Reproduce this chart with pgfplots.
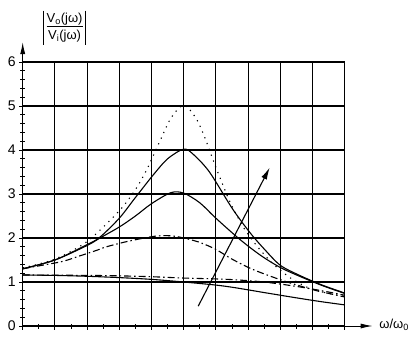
\documentclass[border=0pt]{standalone}
\usepackage{pgfplots}
\pgfplotsset{compat=1.18}
\usepackage{fontspec}
\setmainfont{Liberation Sans}
\usetikzlibrary{arrows.meta}
\begin{document}
\begin{tikzpicture}[x=1pt,y=1pt]
\begin{axis}[
 scale only axis, width=322pt, height=264pt,
 xmin=0,xmax=10,ymin=0,ymax=6,
 axis lines=left,
 x axis line style={-{Latex[length=12pt,width=5pt]}, shorten >=-28pt, line width=1pt},
 y axis line style={-{Latex[length=12pt,width=5pt]}, shorten >=-20pt, line width=1pt},
 xtick={0,...,10}, ytick={0,...,6},
 xticklabels={},
 minor x tick num=1, minor y tick num=4,
 grid=major, major grid style={black, line width=1.1pt},
 tick style={black, line width=0.8pt},
 tick align=center,
 major tick length=7pt, minor tick length=5pt,
 tick label style={font=\fontsize{14}{16}\selectfont},
 /pgf/number format/assume math mode=true,
 clip=false,
]
% peak 5 (dotted)
\addplot[black, line width=1.1pt, dash pattern=on 1.2pt off 5pt, smooth] coordinates {
(0,1.32) (1,1.52) (2,1.92) (3,2.62) (3.5,3.1) (3.85,3.55) (4.26,4.2) (4.6,4.72) (5.0,5.02)
(5.4,4.7) (5.7,4.2) (5.9,3.8) (6.1,3.42) (6.45,2.8) (6.85,2.25) (7.25,1.84) (7.75,1.43)
(8.3,1.1) (8.9,0.86) (9.5,0.74) (10,0.68)};
% peak 4 (solid)
\addplot[black, line width=1.1pt, smooth] coordinates {
(0,1.3) (1,1.5) (2,1.85) (2.4,2.02) (3,2.45) (3.5,2.92) (4.05,3.43) (4.5,3.8) (5.0,4.02)
(5.3,3.9) (5.8,3.5) (6.5,2.68) (7.05,2.13) (7.5,1.75) (8.0,1.38) (8.6,1.15) (9.3,0.93) (10,0.75)};
% peak 3 (solid)
\addplot[black, line width=1.1pt, smooth] coordinates {
(0,1.3) (1,1.5) (2,1.83) (2.4,2.0) (3,2.25) (3.5,2.5) (4.0,2.78) (4.6,3.03) (5.0,3.02)
(5.5,2.8) (6.0,2.45) (6.74,1.97) (7.4,1.6) (8.0,1.33) (8.6,1.13) (9.3,0.92) (10,0.74)};
% peak 2 (dash-dot)
\addplot[black, line width=1.1pt, dash pattern=on 7pt off 3pt on 1.5pt off 3pt, smooth] coordinates {
(0,1.3) (0.6,1.38) (1.25,1.47) (1.8,1.6) (2.3,1.72) (2.6,1.8) (3.3,1.93) (4.1,2.04) (4.6,2.05)
(5.0,2.0) (5.5,1.9) (6.0,1.74) (6.5,1.52) (7.1,1.3) (7.7,1.13) (8.3,0.98) (8.8,0.87) (9.2,0.79) (10,0.66)};
% flat (dash-dot)
\addplot[black, line width=1.1pt, dash pattern=on 7pt off 3pt on 1.5pt off 3pt, smooth] coordinates {
(0,1.16) (2,1.15) (3,1.14) (4,1.12) (5,1.09) (6,1.07) (6.6,1.05) (7.5,1.0) (8.5,0.9) (9.3,0.8) (10,0.7)};
% lowest (solid)
\addplot[black, line width=1.1pt, smooth] coordinates {
(0,1.16) (1,1.15) (2,1.13) (3,1.1) (4,1.06) (5,1.0) (6,0.93) (6.6,0.87) (7.5,0.76) (8.5,0.64) (9.3,0.55) (10,0.48)};
% direction arrow
\draw[black, line width=1.1pt, -{Latex[length=12pt,width=6pt]}] (axis cs:5.45,0.45) -- (axis cs:7.67,3.6);
\node[inner sep=1pt, font=\fontsize{13}{15}\selectfont] (F) at (axis cs:1.3,6.78)
 {\begin{tabular}{@{}c@{}}V\textsubscript{o}(jω)\\[-1pt]\hline\rule{0pt}{13pt}V\textsubscript{i}(jω)\end{tabular}};
\draw[black, line width=1pt] ([xshift=-2pt]F.north west) -- ([xshift=-2pt]F.south west);
\draw[black, line width=1pt] ([xshift=2pt]F.north east) -- ([xshift=2pt]F.south east);
\node[anchor=west, font=\fontsize{13}{15}\selectfont] at (axis cs:10.97,0.02) {ω/ω\textsubscript{0}};
\coordinate (O) at (axis cs:0,0);
\end{axis}
\path (O) ++(-22.7pt,-15pt) rectangle ++(413pt,341pt);
\end{tikzpicture}
\end{document}
